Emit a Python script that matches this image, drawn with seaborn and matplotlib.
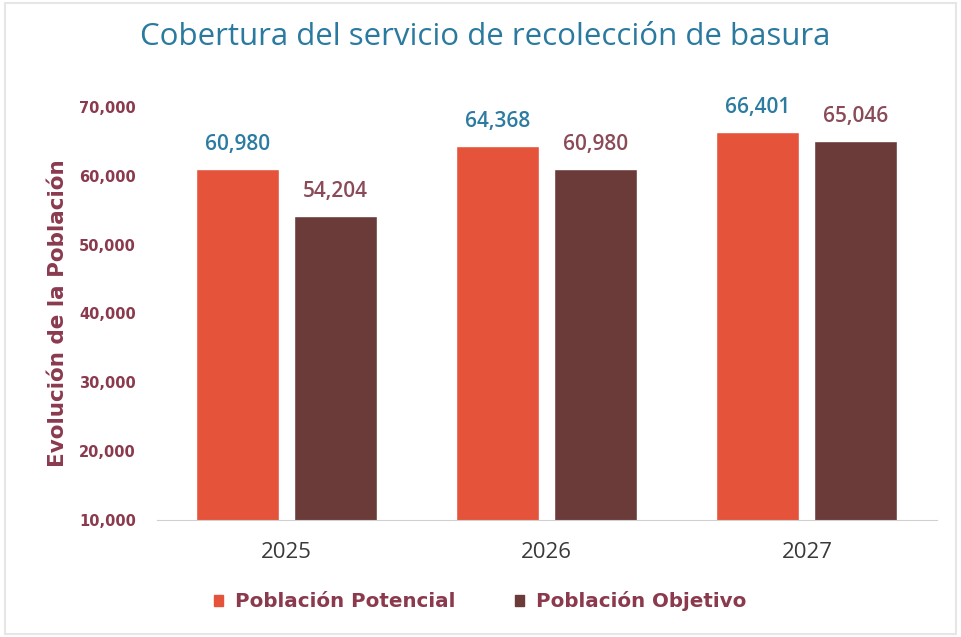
import pandas as pd
import seaborn as sns
import matplotlib.pyplot as plt
from matplotlib.patches import Patch

# data
years = ["2025", "2026", "2027"]
potencial = [60980, 64368, 66401]
objetivo = [54204, 60980, 65046]
series = ["Población Potencial", "Población Objetivo"]

bar_colors = ["#E5533B", "#6A3B39"]
label_colors = ["#2C7BA1", "#8A4A58"]
mauve = "#8B3A4E"

df = pd.DataFrame({
    "year": years * 2,
    "value": potencial + objetivo,
    "serie": [series[0]] * 3 + [series[1]] * 3,
})

sns.set_style("white")
plt.rcParams["font.family"] = ["Open Sans", "DejaVu Sans"]

fig = plt.figure(figsize=(9.61, 6.37), dpi=100)
ax = fig.add_axes([0.163, 0.184, 0.812, 0.648])

sns.barplot(data=df, x="year", y="value", hue="serie", palette=bar_colors,
            width=0.754, gap=0.153, ax=ax, legend=False, saturation=1)

ax.set_ylim(10000, 70000)
ax.set_yticks(range(10000, 70001, 10000))
ax.set_yticklabels([f"{v:,}" for v in range(10000, 70001, 10000)],
                   color=mauve, fontsize=10.5, fontweight="bold",
                   family="DejaVu Sans")
ax.tick_params(axis="y", length=0, pad=15)
ax.tick_params(axis="x", length=0, pad=16, labelsize=16, labelcolor="#3a3a3a")
ax.set_xlabel("")
ax.set_ylabel("Evolución de la Población", color=mauve, fontsize=15.5,
              fontweight="bold", family="DejaVu Sans", labelpad=8)

for s in ["top", "right", "left"]:
    ax.spines[s].set_visible(False)
ax.spines["bottom"].set_color("#d0d0d0")

# value labels
for cont, col in zip(ax.containers, label_colors):
    ax.bar_label(cont, labels=[f"{int(b.get_height()):,}" for b in cont],
                 padding=10, color=col, fontsize=15, fontweight="semibold")

fig.suptitle("Cobertura del servicio de recolección de basura",
             x=0.505, y=0.965, color="#2A7AA0", fontsize=22.5)

# legend
handles = [Patch(color=c) for c in bar_colors]
fig.legend(handles, series, loc="lower center", bbox_to_anchor=(0.5, 0.012),
           ncol=2, frameon=False, handlelength=0.45, handleheight=0.45,
           columnspacing=3.0, handletextpad=0.6,
           prop={"family": "DejaVu Sans", "weight": "bold", "size": 14.3},
           labelcolor=mauve)

fig.patches.append(plt.Rectangle((0.005, 0.005), 0.99, 0.99, transform=fig.transFigure,
                                 fill=False, edgecolor="#e6e6e6", lw=1.5))

fig.savefig("out.png", dpi=100)
